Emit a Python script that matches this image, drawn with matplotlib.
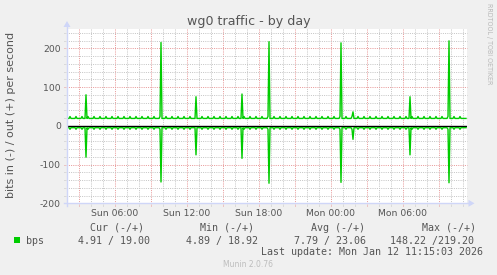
import numpy as np
import matplotlib
matplotlib.use("Agg")
import matplotlib.pyplot as plt
from matplotlib.patches import Polygon, Rectangle
from matplotlib.lines import Line2D

# ---------------- data (5-minute samples, Sun 02:00 -> Mon 11:15) ----------------
# out (+) bits per second, one row per hour (12 samples)
out_bps = [
    19, 19, 19, 24, 19, 19, 19, 19, 19, 24, 19, 19,    # Sun 02:00
    19, 19, 19, 24, 19, 19, 19, 80, 19, 24, 19, 19,    # Sun 03:00
    19, 19, 19, 24, 19, 19, 19, 19, 19, 24, 19, 19,    # Sun 04:00
    19, 19, 19, 24, 19, 19, 19, 19, 19, 24, 19, 19,    # Sun 05:00
    19, 19, 19, 24, 19, 19, 19, 19, 19, 24, 19, 19,    # Sun 06:00
    19, 19, 19, 24, 19, 19, 19, 19, 19, 24, 19, 19,    # Sun 07:00
    19, 19, 19, 24, 19, 19, 19, 19, 19, 24, 19, 19,    # Sun 08:00
    19, 19, 19, 24, 19, 19, 19, 19, 19, 24, 215, 19,   # Sun 09:00
    19, 19, 19, 24, 19, 19, 19, 19, 19, 24, 19, 19,    # Sun 10:00
    19, 19, 19, 24, 19, 19, 19, 19, 19, 24, 19, 19,    # Sun 11:00
    19, 19, 19, 24, 19, 19, 19, 19, 19, 75, 19, 19,    # Sun 12:00
    19, 19, 19, 24, 19, 19, 19, 19, 19, 24, 19, 19,    # Sun 13:00
    19, 19, 19, 24, 19, 19, 19, 19, 19, 24, 19, 19,    # Sun 14:00
    19, 19, 19, 24, 19, 19, 19, 19, 19, 24, 19, 19,    # Sun 15:00
    19, 19, 19, 24, 19, 19, 19, 82, 19, 24, 19, 19,    # Sun 16:00
    19, 19, 19, 24, 19, 19, 19, 19, 19, 24, 19, 19,    # Sun 17:00
    19, 19, 19, 24, 19, 19, 19, 19, 19, 24, 217, 19,   # Sun 18:00
    19, 19, 19, 24, 19, 19, 19, 19, 19, 24, 19, 19,    # Sun 19:00
    19, 19, 19, 24, 19, 19, 19, 19, 19, 24, 19, 19,    # Sun 20:00
    19, 19, 19, 24, 19, 19, 19, 19, 19, 24, 19, 19,    # Sun 21:00
    19, 19, 19, 24, 19, 19, 19, 19, 19, 24, 19, 19,    # Sun 22:00
    19, 19, 19, 24, 19, 19, 19, 19, 19, 24, 19, 19,    # Sun 23:00
    19, 19, 19, 24, 19, 19, 19, 19, 19, 24, 214, 19,   # Mon 00:00
    19, 19, 19, 24, 19, 19, 19, 19, 19, 24, 36, 19,    # Mon 01:00
    19, 19, 19, 24, 19, 19, 19, 19, 19, 24, 19, 19,    # Mon 02:00
    19, 19, 19, 24, 19, 19, 19, 19, 19, 24, 19, 19,    # Mon 03:00
    19, 19, 19, 24, 19, 19, 19, 19, 19, 24, 19, 19,    # Mon 04:00
    19, 19, 19, 24, 19, 19, 19, 19, 19, 24, 19, 19,    # Mon 05:00
    19, 19, 19, 24, 19, 19, 19, 75, 19, 24, 19, 19,    # Mon 06:00
    19, 19, 19, 24, 19, 19, 19, 19, 19, 24, 19, 19,    # Mon 07:00
    19, 19, 19, 24, 19, 19, 19, 19, 19, 24, 19, 19,    # Mon 08:00
    19, 19, 19, 24, 19, 19, 19, 19, 19, 24, 219.2, 19, # Mon 09:00
    19, 19, 19, 24, 19, 19, 19, 19, 19, 24, 19, 19,    # Mon 10:00
    19, 19, 19.1, 19.0,                                # Mon 11:00
]

# in (-) bits per second (drawn below zero)
in_bps = [
    4.9, 4.9, 4.9, 9, 4.9, 4.9, 4.9, 4.9, 4.9, 9, 4.9, 4.9,    # Sun 02:00
    4.9, 4.9, 4.9, 9, 4.9, 4.9, 4.9, 81, 4.9, 9, 4.9, 4.9,     # Sun 03:00
    4.9, 4.9, 4.9, 9, 4.9, 4.9, 4.9, 4.9, 4.9, 9, 4.9, 4.9,    # Sun 04:00
    4.9, 4.9, 4.9, 9, 4.9, 4.9, 4.9, 4.9, 4.9, 9, 4.9, 4.9,    # Sun 05:00
    4.9, 4.9, 4.9, 9, 4.9, 4.9, 4.9, 4.9, 4.9, 9, 4.9, 4.9,    # Sun 06:00
    4.9, 4.9, 4.9, 9, 4.9, 4.9, 4.9, 4.9, 4.9, 9, 4.9, 4.9,    # Sun 07:00
    4.9, 4.9, 4.9, 9, 4.9, 4.9, 4.9, 4.9, 4.9, 9, 4.9, 4.9,    # Sun 08:00
    4.9, 4.9, 4.9, 9, 4.9, 4.9, 4.9, 4.9, 4.9, 9, 145, 4.9,    # Sun 09:00
    4.9, 4.9, 4.9, 9, 4.9, 4.9, 4.9, 4.9, 4.9, 9, 4.9, 4.9,    # Sun 10:00
    4.9, 4.9, 4.9, 9, 4.9, 4.9, 4.9, 4.9, 4.9, 9, 4.9, 4.9,    # Sun 11:00
    4.9, 4.9, 4.9, 9, 4.9, 4.9, 4.9, 4.9, 4.9, 75, 4.9, 4.9,   # Sun 12:00
    4.9, 4.9, 4.9, 9, 4.9, 4.9, 4.9, 4.9, 4.9, 9, 4.9, 4.9,    # Sun 13:00
    4.9, 4.9, 4.9, 9, 4.9, 4.9, 4.9, 4.9, 4.9, 9, 4.9, 4.9,    # Sun 14:00
    4.9, 4.9, 4.9, 9, 4.9, 4.9, 4.9, 4.9, 4.9, 9, 4.9, 4.9,    # Sun 15:00
    4.9, 4.9, 4.9, 9, 4.9, 4.9, 4.9, 84, 4.9, 9, 4.9, 4.9,     # Sun 16:00
    4.9, 4.9, 4.9, 9, 4.9, 4.9, 4.9, 4.9, 4.9, 9, 4.9, 4.9,    # Sun 17:00
    4.9, 4.9, 4.9, 9, 4.9, 4.9, 4.9, 4.9, 4.9, 9, 148.22, 4.9, # Sun 18:00
    4.9, 4.9, 4.9, 9, 4.9, 4.9, 4.9, 4.9, 4.9, 9, 4.9, 4.9,    # Sun 19:00
    4.9, 4.9, 4.9, 9, 4.9, 4.9, 4.9, 4.9, 4.9, 9, 4.9, 4.9,    # Sun 20:00
    4.9, 4.9, 4.9, 9, 4.9, 4.9, 4.9, 4.9, 4.9, 9, 4.9, 4.9,    # Sun 21:00
    4.9, 4.9, 4.9, 9, 4.9, 4.9, 4.9, 4.9, 4.9, 9, 4.9, 4.9,    # Sun 22:00
    4.9, 4.9, 4.9, 9, 4.9, 4.9, 4.9, 4.9, 4.9, 9, 4.9, 4.9,    # Sun 23:00
    4.9, 4.9, 4.9, 9, 4.9, 4.9, 4.9, 4.9, 4.9, 9, 146, 4.9,    # Mon 00:00
    4.9, 4.9, 4.9, 9, 4.9, 4.9, 4.9, 4.9, 4.9, 9, 35, 4.9,     # Mon 01:00
    4.9, 4.9, 4.9, 9, 4.9, 4.9, 4.9, 4.9, 4.9, 9, 4.9, 4.9,    # Mon 02:00
    4.9, 4.9, 4.9, 9, 4.9, 4.9, 4.9, 4.9, 4.9, 9, 4.9, 4.9,    # Mon 03:00
    4.9, 4.9, 4.9, 9, 4.9, 4.9, 4.9, 4.9, 4.9, 9, 4.9, 4.9,    # Mon 04:00
    4.9, 4.9, 4.9, 9, 4.9, 4.9, 4.9, 4.9, 4.9, 9, 4.9, 4.9,    # Mon 05:00
    4.9, 4.9, 4.9, 9, 4.9, 4.9, 4.9, 75, 4.9, 9, 4.9, 4.9,     # Mon 06:00
    4.9, 4.9, 4.9, 9, 4.9, 4.9, 4.9, 4.9, 4.9, 9, 4.9, 4.9,    # Mon 07:00
    4.9, 4.9, 4.9, 9, 4.9, 4.9, 4.9, 4.9, 4.9, 9, 4.9, 4.9,    # Mon 08:00
    4.9, 4.9, 4.9, 9, 4.9, 4.9, 4.9, 4.9, 4.9, 9, 147, 4.9,    # Mon 09:00
    4.9, 4.9, 4.9, 9, 4.9, 4.9, 4.9, 4.9, 4.9, 9, 4.9, 4.9,    # Mon 10:00
    4.9, 4.9, 4.89, 4.91,                                      # Mon 11:00
]

x_tick_pos = [48, 120, 192, 264, 336]          # sample index of each label
x_tick_labels = ["Sun 06:00", "Sun 12:00", "Sun 18:00", "Mon 00:00", "Mon 06:00"]
y_tick_pos = [-200, -100, 0, 100, 200]
y_tick_labels = ["-200", "-100", "0", "100", "200"]

title = "wg0 traffic - by day"
y_label = "bits in (-) / out (+) per second"
series_name = "bps"
legend_headers = ["Cur (-/+)", "Min (-/+)", "Avg (-/+)", "Max (-/+)"]
legend_values = ["4.91 / 19.00", "4.89 / 18.92", "7.79 / 23.06", "148.22 /219.20"]
last_update = "Last update: Mon Jan 12 11:15:03 2026"
footer = "Munin 2.0.76"
watermark = "RRDTOOL / TOBI OETIKER"

# ---------------- style ----------------
BG = "#F0F0F0"
FONT_C = "#555555"
AXIS_C = "#CFD6F8"
GRID_C = "#C6C6C6"
MGRID_C = "#E89A9A"
LINE_C = "#00CC00"

W, H = 497, 275
fig = plt.figure(figsize=(W / 100, H / 100), dpi=100, facecolor=BG)


def fx(px):
    return px / W


def fy(py):
    return 1 - py / H


AX_L, AX_R = 67, 467
AX_T, AX_B = 28.9, 203.3
ax_h_px = AX_B - AX_T
ax = fig.add_axes([fx(AX_L), fy(AX_B), (AX_R - AX_L) / W, ax_h_px / H])
ax.set_facecolor("white")
ax.set_xlim(0, 400)
ax.set_ylim(-200, 250)
for s in ax.spines.values():
    s.set_visible(False)

# grid (dotted, 1px on / 1px off)
xt = ax.get_xaxis_transform()
yt = ax.get_yaxis_transform()
ext_y = 3 / ax_h_px
ext_x = 3 / (AX_R - AX_L)
dot = (0, (1, 1.2))
for h in range(12, 400, 12):
    major = (h - 12) % 36 == 0
    ax.plot([h, h], [-ext_y, 1], transform=xt, clip_on=False,
            color=MGRID_C if major else GRID_C, lw=0.72,
            linestyle=dot, zorder=1)
for v in range(-180, 250, 20):
    if v == 0:
        continue
    major = v % 100 == 0
    ax.plot([-ext_x, 1], [v, v], transform=yt, clip_on=False,
            color=MGRID_C if major else GRID_C, lw=0.72,
            linestyle=dot, zorder=1)

# zero line
ax.axhline(0, color="black", lw=1.0, zorder=2)

# data
t = np.arange(len(out_bps))
ax.plot(t, out_bps, color=LINE_C, lw=1.0, zorder=3)
ax.plot(t, -np.asarray(in_bps), color=LINE_C, lw=1.0, zorder=3)

# ticks
ax.set_xticks(x_tick_pos)
ax.set_xticklabels(x_tick_labels)
ax.set_yticks(y_tick_pos)
ax.set_yticklabels(y_tick_labels)
ax.tick_params(axis="both", length=0, labelsize=6.7, labelcolor=FONT_C)
ax.tick_params(axis="x", pad=4.0)
ax.tick_params(axis="y", pad=4.3)

# axis lines with arrows
fig.add_artist(Line2D([fx(AX_L), fx(AX_L)], [fy(AX_B + 3), fy(25)],
                      color=AXIS_C, lw=1.0))
fig.add_artist(Line2D([fx(AX_L - 3), fx(470)], [fy(AX_B), fy(AX_B)],
                      color=AXIS_C, lw=1.0))
fig.add_artist(Polygon([[fx(AX_L - 3.5), fy(27)], [fx(AX_L + 3.5), fy(27)],
                        [fx(AX_L), fy(21)]], closed=True,
                       facecolor=AXIS_C, edgecolor="none"))
fig.add_artist(Polygon([[fx(468.5), fy(AX_B - 3.5)], [fx(468.5), fy(AX_B + 3.5)],
                        [fx(474.5), fy(AX_B)]], closed=True,
                       facecolor=AXIS_C, edgecolor="none"))

# texts
fig.text(fx(248.5), fy(21), title, ha="center", va="center",
         fontsize=9.1, color=FONT_C, family="DejaVu Sans")
fig.text(fx(10.8), fy(115), y_label, ha="center", va="center",
         rotation=90, fontsize=8.0, color=FONT_C, family="DejaVu Sans")
fig.text(fx(488.5), fy(43.5), watermark, ha="center", va="center",
         rotation=270, fontsize=5.0, fontstretch="condensed",
         color="#B8B8B8", family="DejaVu Sans")

mono = dict(family="DejaVu Sans Mono", fontsize=7.2, color=FONT_C)
header_x = [89.5, 199.5, 311.2, 422.2]
value_x = [77.6, 186.0, 294.3, 390.0]
for hx, txt in zip(header_x, legend_headers):
    fig.text(fx(hx), fy(228.0), txt, ha="left", va="center", **mono)
for vx, txt in zip(value_x, legend_values):
    fig.text(fx(vx), fy(240.6), txt, ha="left", va="center", **mono)
fig.add_artist(Rectangle((fx(14), fy(242.7)), 6 / W, 6 / H,
                         facecolor=LINE_C, edgecolor="none",
                         transform=fig.transFigure))
fig.text(fx(25.8), fy(240.6), series_name, ha="left", va="center", **mono)
fig.text(fx(483.2), fy(252.4), last_update, ha="right", va="center", **mono)
fig.text(fx(248), fy(264.5), footer, ha="center", va="center",
         fontsize=5.5, color="#BDBDBD", family="DejaVu Sans")

fig.savefig("out.png", dpi=100, facecolor=BG)
